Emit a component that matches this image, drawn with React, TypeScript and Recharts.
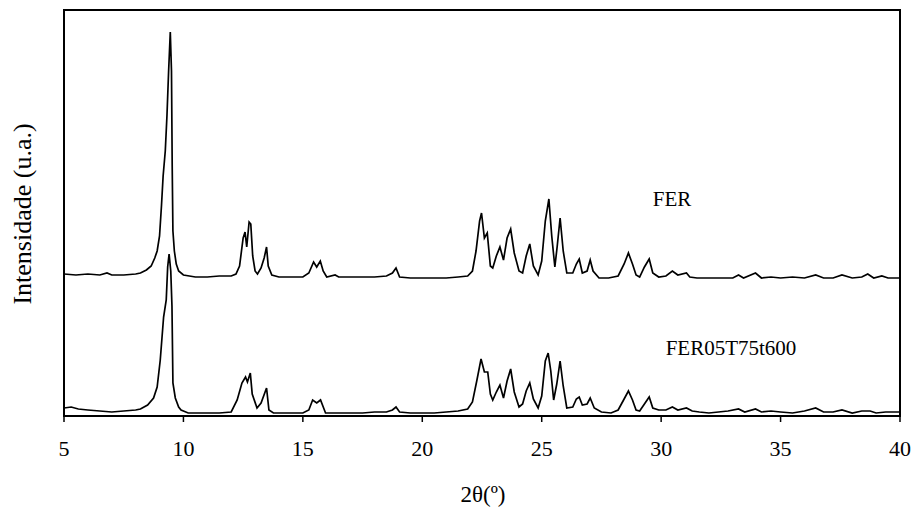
import { LineChart, Line, XAxis, YAxis, ReferenceArea } from 'recharts';

// 2θ positions (degrees) and intensities (a.u.)
const ferTheta = [
  5.0, 5.5, 6.0, 6.5, 6.8, 7.0, 7.5, 8.0, 8.2, 8.45, 8.65, 8.8, 8.9, 9.0, 9.08, 9.15, 9.24, 9.31, 9.38, 9.45,
  9.5, 9.53, 9.56, 9.62, 9.7, 9.8, 10.0, 10.5, 11.0, 11.5, 12.0, 12.2, 12.35, 12.5, 12.58, 12.65, 12.75, 12.82,
  12.9, 13.0, 13.1, 13.25, 13.38, 13.48, 13.55, 13.7, 14.0, 14.5, 15.0, 15.25, 15.45, 15.58, 15.73, 15.85, 16.0,
  16.35, 16.5, 17.0, 17.5, 18.0, 18.5, 18.75, 18.9, 19.05, 19.5, 20.0, 20.5, 21.0, 21.5, 21.9, 22.1, 22.25, 22.4,
  22.48, 22.6, 22.72, 22.85, 22.95, 23.1, 23.25, 23.4, 23.55, 23.7, 23.85, 24.05, 24.2, 24.35, 24.5, 24.65, 24.85,
  25.0, 25.15, 25.3, 25.42, 25.55, 25.65, 25.77, 25.9, 26.05, 26.3, 26.45, 26.57, 26.7, 26.9, 27.03, 27.15, 27.4,
  27.8, 28.2, 28.45, 28.63, 28.8, 28.95, 29.1, 29.3, 29.5, 29.65, 29.9, 30.2, 30.47, 30.7, 31.06, 31.2, 31.5, 32.0,
  32.5, 33.0, 33.24, 33.45, 33.95, 34.2, 34.6, 35.0, 35.5, 36.0, 36.47, 36.8, 37.2, 37.57, 38.0, 38.4, 38.65, 38.9,
  39.24, 39.5, 40.0,
];
const ferIntensity = [
  142, 141, 142, 141, 143, 141, 141, 142, 143, 146, 150, 158, 165, 180, 210, 240, 265, 300, 345, 384,
  345, 250, 185, 165, 152, 145, 141, 139, 139, 140, 140, 142, 150, 178, 184, 169, 194, 192,
  160, 145, 142, 148, 158, 169, 150, 141, 139, 139, 139, 143, 154, 149, 155, 145, 139,
  141, 139, 139, 139, 139, 140, 143, 148, 139, 138, 138, 138, 138, 139, 140, 145, 165, 195,
  203, 178, 183, 150, 148, 160, 169, 156, 178, 187, 163, 145, 143, 160, 172, 150, 141,
  155, 195, 217, 180, 149, 170, 198, 165, 143, 143, 152, 157, 143, 145, 156, 145, 138,
  138, 140, 152, 163, 152, 141, 139, 149, 157, 143, 139, 140, 145, 141, 143, 139, 138, 138,
  138, 138, 141, 138, 143, 138, 139, 138, 139, 138, 141, 138, 138, 141, 138, 139, 142, 138,
  140, 138, 138,
];

const treatedTheta = [
  5.0, 5.3, 5.6, 6.0, 6.5, 7.0, 7.5, 8.0, 8.2, 8.5, 8.75, 8.9, 9.03, 9.17, 9.28, 9.34, 9.4, 9.47, 9.52, 9.56,
  9.66, 9.8, 9.9, 10.2, 10.8, 11.5, 12.0, 12.25, 12.45, 12.6, 12.68, 12.8, 12.88, 13.08, 13.25, 13.48, 13.58,
  13.77, 14.5, 15.0, 15.25, 15.41, 15.58, 15.74, 15.95, 16.5, 17.0, 17.5, 18.0, 18.5, 18.75, 18.9, 19.05, 19.5,
  20.0, 20.5, 21.0, 21.5, 21.9, 22.1, 22.28, 22.46, 22.6, 22.74, 22.85, 22.95, 23.1, 23.25, 23.4, 23.55, 23.7,
  23.85, 24.05, 24.2, 24.35, 24.5, 24.65, 24.85, 25.0, 25.15, 25.27, 25.38, 25.5, 25.63, 25.77, 25.9, 26.05,
  26.3, 26.45, 26.57, 26.7, 26.9, 27.03, 27.2, 27.5, 27.9, 28.2, 28.45, 28.63, 28.8, 28.95, 29.1, 29.3, 29.5,
  29.65, 29.9, 30.2, 30.47, 30.7, 31.06, 31.3, 31.6, 32.0, 32.4, 32.8, 33.24, 33.5, 33.95, 34.2, 34.6, 35.0,
  35.5, 36.0, 36.47, 36.8, 37.2, 37.57, 38.0, 38.4, 38.75, 39.0, 39.4, 40.0,
];
const treatedIntensity = [
  8, 9, 7, 6, 5, 4, 5, 6, 7, 11, 18, 29, 56, 99, 116, 149, 162, 145, 110, 33,
  18, 9, 6, 3, 3, 3, 4, 16, 33, 39, 34, 43, 22, 8, 13, 28, 6,
  3, 3, 3, 6, 16, 13, 16, 3, 3, 3, 3, 4, 4, 6, 9, 4, 3,
  3, 3, 4, 5, 7, 14, 35, 57, 44, 44, 22, 16, 24, 31, 18, 35, 47,
  24, 9, 12, 25, 33, 17, 8, 20, 55, 63, 45, 16, 32, 55, 30, 8,
  9, 17, 19, 11, 12, 18, 8, 4, 3, 6, 17, 25, 16, 6, 5, 12, 19,
  8, 6, 6, 9, 6, 8, 5, 4, 3, 4, 5, 7, 4, 7, 4, 5, 4,
  3, 5, 8, 4, 4, 6, 3, 5, 5, 3, 4, 4,
];

const xTicks = [5, 10, 15, 20, 25, 30, 35, 40];

const ferData = ferTheta.map((x, i) => ({ x, y: ferIntensity[i] }));
const treatedData = treatedTheta.map((x, i) => ({ x, y: treatedIntensity[i] }));

const serif = "'Liberation Serif', 'Times New Roman', serif";

export default function App() {
  return (
    <div style={{ position: 'absolute', left: 0, top: 0, width: 916, height: 512, background: '#fff' }}>
      <LineChart width={916} height={512} margin={{ top: 10, right: 16, left: 64, bottom: 66 }}>
        <XAxis
          type="number"
          dataKey="x"
          domain={[5, 40]}
          ticks={xTicks}
          allowDataOverflow
          height={30}
          axisLine={{ stroke: '#000', strokeWidth: 2 }}
          tickLine={{ stroke: '#000', strokeWidth: 1.5 }}
          tickSize={6}
          tickMargin={18}
          tick={{ fill: '#000', fontSize: 22, fontFamily: serif }}
        />
        <YAxis type="number" domain={[0, 406]} hide allowDataOverflow />
        <ReferenceArea x1={5} x2={40} y1={0} y2={406} fill="none" stroke="#000" strokeWidth={2} />
        <Line
          data={ferData}
          dataKey="y"
          type="linear"
          stroke="#000"
          strokeWidth={1.7}
          dot={false}
          isAnimationActive={false}
        />
        <Line
          data={treatedData}
          dataKey="y"
          type="linear"
          stroke="#000"
          strokeWidth={1.7}
          dot={false}
          isAnimationActive={false}
        />
      </LineChart>
      <svg width={916} height={512} style={{ position: 'absolute', left: 0, top: 0, pointerEvents: 'none' }}>
        <text x={672} y={206} textAnchor="middle" fontSize={21} fontFamily={serif} fill="#000">FER</text>
        <text x={731} y={355} textAnchor="middle" fontSize={21} fontFamily={serif} fill="#000">FER05T75t600</text>
        <text x={483} y={502} textAnchor="middle" fontSize={23} fontFamily={serif} fill="#000">2θ(º)</text>
        <text
          x={31}
          y={214}
          textAnchor="middle"
          fontSize={26}
          fontFamily={serif}
          fill="#000"
          transform="rotate(-90, 31, 214)"
        >
          Intensidade (u.a.)
        </text>
      </svg>
    </div>
  );
}
